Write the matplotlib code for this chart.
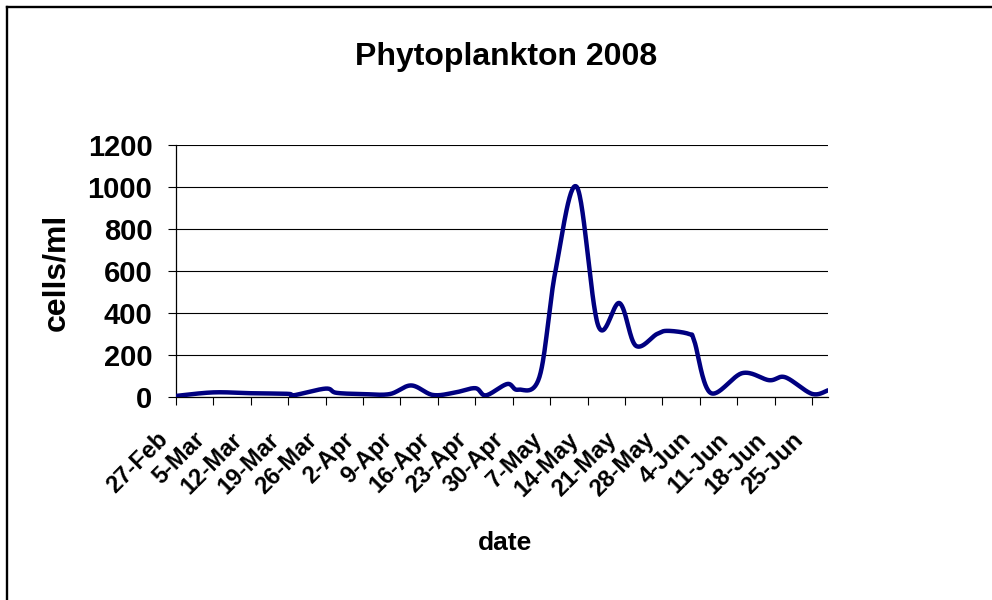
import datetime as dt

import matplotlib
matplotlib.use("Agg")
import matplotlib.pyplot as plt
import matplotlib.dates as mdates
import matplotlib.transforms as mtransforms
import numpy as np
from matplotlib.lines import Line2D

plt.rcParams["font.family"] = ["Liberation Sans", "DejaVu Sans"]
plt.rcParams["font.weight"] = "bold"

YEAR = 2008

# sampling dates (day-month) and phytoplankton counts (cells/ml)
sample_dates = [
    "27-Feb", "5-Mar", "12-Mar", "19-Mar", "20-Mar", "26-Mar", "28-Mar",
    "2-Apr", "7-Apr", "11-Apr", "15-Apr", "19-Apr", "23-Apr", "25-Apr",
    "29-Apr", "1-May", "5-May", "8-May", "12-May", "16-May",
    "20-May", "23-May", "27-May", "29-May", "2-Jun", "3-Jun", "6-Jun",
    "12-Jun", "17-Jun", "20-Jun", "25-Jun", "28-Jun",
]
cells_per_ml = [
    5, 22, 18, 15, 8, 40, 20,
    14, 14, 55, 10, 20, 42, 8,
    62, 35, 95, 600, 1000, 340,
    447, 245, 300, 315, 300, 265, 20,
    114, 80, 94, 15, 32,
]

tick_labels = [
    "27-Feb", "5-Mar", "12-Mar", "19-Mar", "26-Mar", "2-Apr", "9-Apr",
    "16-Apr", "23-Apr", "30-Apr", "7-May", "14-May", "21-May", "28-May",
    "4-Jun", "11-Jun", "18-Jun", "25-Jun",
]
y_ticks = [0, 200, 400, 600, 800, 1000, 1200]

title_text = "Phytoplankton 2008"
x_title = "date"
y_title = "cells/ml"


def to_date(s):
    return dt.datetime.strptime(f"{s}-{YEAR}", "%d-%b-%Y")


def smooth_path(x, y, n=30):
    """Bezier smoothing through every point, control points from neighbours."""
    x = np.asarray(x, float)
    y = np.asarray(y, float)
    px = np.concatenate([[x[0]], x, [x[-1]]])
    py = np.concatenate([[y[0]], y, [y[-1]]])
    xs, ys = [], []
    t = np.linspace(0, 1, n, endpoint=False)
    for i in range(1, len(px) - 2):
        p0 = np.array([px[i], py[i]])
        p3 = np.array([px[i + 1], py[i + 1]])
        c1 = p0 + (np.array([px[i + 1], py[i + 1]]) - np.array([px[i - 1], py[i - 1]])) / 6
        c2 = p3 - (np.array([px[i + 2], py[i + 2]]) - np.array([px[i], py[i]])) / 6
        b = ((1 - t) ** 3)[:, None] * p0 + (3 * (1 - t) ** 2 * t)[:, None] * c1 \
            + (3 * (1 - t) * t ** 2)[:, None] * c2 + (t ** 3)[:, None] * p3
        xs.append(b[:, 0])
        ys.append(b[:, 1])
    xs.append([x[-1]])
    ys.append([y[-1]])
    return np.concatenate(xs), np.concatenate(ys)


dates_num = mdates.date2num([to_date(d) for d in sample_dates])
sx, sy = smooth_path(dates_num, cells_per_ml)

W, H = 992, 600
fig = plt.figure(figsize=(W / 100, H / 100), dpi=100)
ax = fig.add_axes([176 / W, 1 - 397 / H, 652 / W, 252 / H])

ax.plot(mdates.num2date(sx), sy, color="#000080", lw=3.2,
        solid_capstyle="round", solid_joinstyle="round", zorder=3)

ax.set_ylim(0, 1200)
ax.set_yticks(y_ticks)
ax.set_yticklabels([str(v) for v in y_ticks], fontsize=21, fontweight="bold")
ax.yaxis.grid(True, color="black", lw=0.8)
ax.set_axisbelow(True)

tick_dates = [to_date(s) for s in tick_labels]
ax.set_xlim(to_date("27-Feb"), to_date("28-Jun"))
ax.set_xticks(tick_dates)
ax.set_xticklabels([])

# slanted date labels, hung below each tick
label_offset = mtransforms.ScaledTranslation(-12 / 100, -39 / 100, fig.dpi_scale_trans)
for d, s in zip(tick_dates, tick_labels):
    ax.text(d, 0, s, transform=ax.get_xaxis_transform() + label_offset,
            rotation=45, rotation_mode="anchor", ha="right", va="center",
            fontsize=17, fontweight="bold", clip_on=False)

ax.tick_params(axis="both", direction="out", length=6, width=0.8, color="black")
ax.tick_params(axis="y", pad=11)
for side in ("top", "right"):
    ax.spines[side].set_visible(False)
for side in ("left", "bottom"):
    ax.spines[side].set_color("black")
    ax.spines[side].set_linewidth(0.9)

fig.text(506 / W, 1 - 57 / H, title_text, ha="center", va="center",
         fontsize=23, fontweight="bold")
fig.text(56 / W, 1 - 272 / H, y_title, ha="center", va="center",
         rotation=90, fontsize=23, fontweight="bold")
fig.text(505 / W, 1 - 543 / H, x_title, ha="center", va="center",
         fontsize=19, fontweight="bold")

# chart frame
fig.add_artist(Line2D([6.5 / W, 6.5 / W], [0, 1 - 6.5 / H], transform=fig.transFigure,
                      color="black", lw=1.7))
fig.add_artist(Line2D([6.5 / W, 1], [1 - 6.5 / H, 1 - 6.5 / H], transform=fig.transFigure,
                      color="black", lw=1.7))

fig.savefig("out.png", dpi=100, facecolor="white")
